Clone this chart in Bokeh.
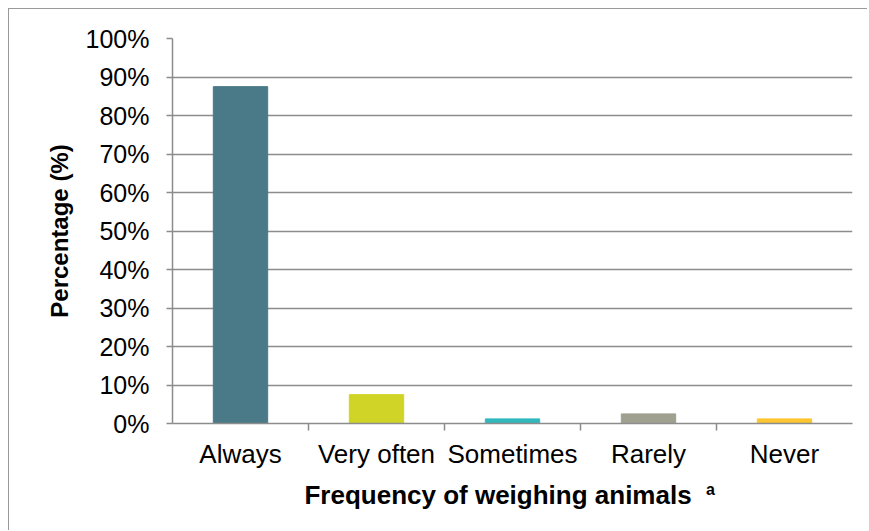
from bokeh.plotting import figure
from bokeh.layouts import column
from bokeh.models import FixedTicker, PrintfTickFormatter, Range1d, Div, ColumnDataSource
from bokeh.embed import file_html
from bokeh.resources import INLINE

# Survey responses: how often animals are weighed
categories = ["Always", "Very often", "Sometimes", "Rarely", "Never"]
percentages = [87.5, 7.5, 1.2, 2.5, 1.2]
bar_colors = ["#4A7A87", "#D0D426", "#31B8BD", "#A0A090", "#FDC530"]
y_ticks = [0, 10, 20, 30, 40, 50, 60, 70, 80, 90, 100]
x_title = "Frequency of weighing animals"
x_title_note = "a"

FONT = "Liberation Sans"
GRID = "#8C8C8C"

x_pos = [i + 0.5 for i in range(len(categories))]
source = ColumnDataSource(dict(x=x_pos, top=percentages, color=bar_colors))

p = figure(
    width=859, height=522,
    x_range=Range1d(0, len(categories)), y_range=Range1d(0, 100),
    output_backend="svg", toolbar_location=None,
    min_border_left=163, min_border_top=29, min_border_right=16, min_border_bottom=108,
)
p.styles = {"margin-left": "8px", "margin-top": "8px",
            "border-left": "1px solid #999999", "border-top": "1px solid #999999"}
p.outline_line_color = None
p.background_fill_color = "white"

p.vbar(x="x", top="top", width=0.4, bottom=0, color="color", source=source)

# y axis: percent ticks
p.yaxis.ticker = FixedTicker(ticks=y_ticks)
p.yaxis.formatter = PrintfTickFormatter(format="%d%%")
p.yaxis.major_label_text_font = FONT
p.yaxis.major_label_text_font_size = "25px"
p.yaxis.major_label_text_color = "black"
p.yaxis.axis_line_color = GRID
p.yaxis.axis_line_width = 1.5
p.yaxis.major_tick_line_color = GRID
p.yaxis.major_tick_line_width = 1.5
p.yaxis.major_tick_out = 6
p.yaxis.major_tick_in = 0
p.yaxis.minor_tick_line_color = None
p.yaxis.major_label_standoff = 17
p.yaxis.axis_label = "Percentage (%)"
p.yaxis.axis_label_text_font = FONT
p.yaxis.axis_label_text_font_style = "bold"
p.yaxis.axis_label_text_font_size = "24px"
p.yaxis.axis_label_text_color = "black"
p.yaxis.axis_label_standoff = 10

# x axis: labels at category centres, tick marks between categories
p.xaxis.ticker = FixedTicker(ticks=x_pos, minor_ticks=list(range(1, len(categories))))
p.xaxis.major_label_overrides = {x: c for x, c in zip(x_pos, categories)}
p.xaxis.major_label_text_font = FONT
p.xaxis.major_label_text_font_size = "26px"
p.xaxis.major_label_text_color = "black"
p.xaxis.axis_line_color = GRID
p.xaxis.axis_line_width = 1.5
p.xaxis.major_tick_line_color = None
p.xaxis.major_tick_out = 0
p.xaxis.major_tick_in = 0
p.xaxis.minor_tick_line_color = GRID
p.xaxis.minor_tick_line_width = 1.5
p.xaxis.minor_tick_out = 7
p.xaxis.minor_tick_in = 0
p.xaxis.major_label_standoff = 8
# trailing no-break spaces leave room for the superscript note marker
p.xaxis.axis_label = x_title + "\u00a0" * 4
p.xaxis.axis_label_text_font = FONT
p.xaxis.axis_label_text_font_style = "bold"
p.xaxis.axis_label_text_font_size = "26px"
p.xaxis.axis_label_text_color = "black"
p.xaxis.axis_label_standoff = 8

p.xgrid.grid_line_color = None
p.ygrid.ticker = FixedTicker(ticks=y_ticks)
p.ygrid.grid_line_color = GRID
p.ygrid.grid_line_width = 1.5

# superscript note marker after the x-axis title
note = Div(text=x_title_note, styles={
    "position": "absolute", "left": "706px", "top": "481px",
    "margin": "0", "padding": "0",
    "font-family": FONT, "font-size": "16px", "font-weight": "bold",
    "line-height": "18px", "color": "black",
})

layout = column(p, note)
open("out.html", "w").write(file_html(layout, INLINE))
